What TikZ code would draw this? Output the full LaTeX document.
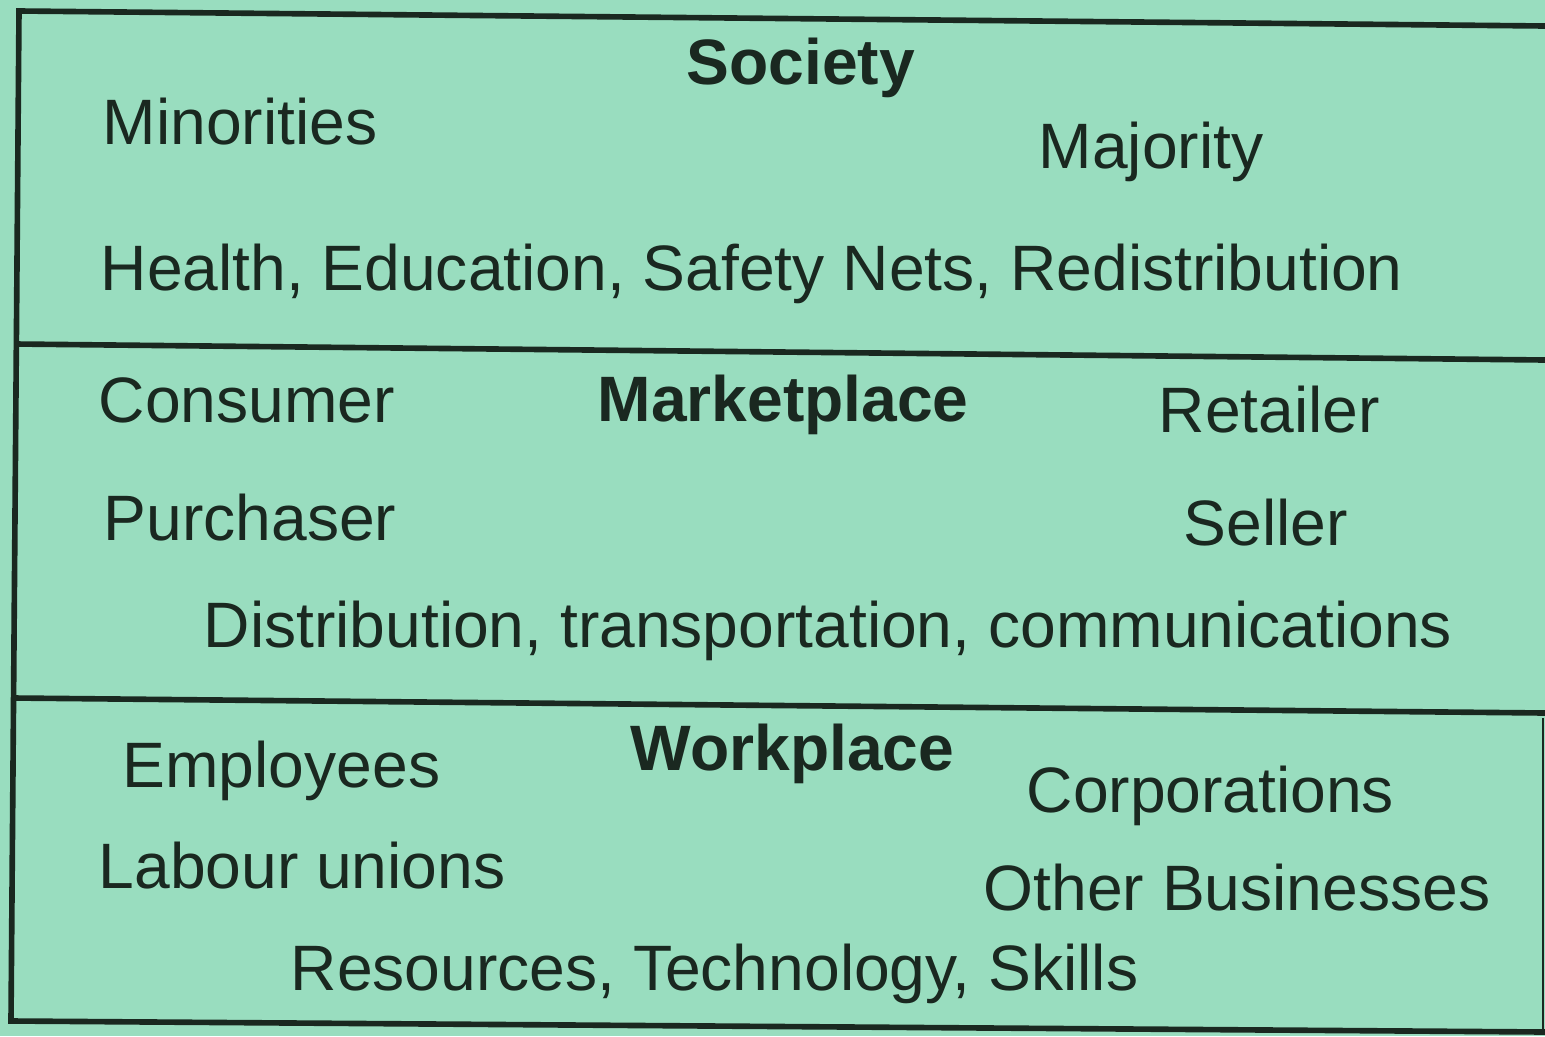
\documentclass[tikz,border=0pt]{standalone}
\usepackage{fontspec}
\setmainfont{Liberation Sans}
\definecolor{bg}{RGB}{153,221,191}
\definecolor{ink}{RGB}{26,40,32}
\begin{document}
\begin{tikzpicture}[x=0.01cm,y=-0.01cm,
  lbl/.style={anchor=base west,inner sep=0pt,text=ink,font=\fontsize{18.25}{22}\selectfont},
  ttl/.style={anchor=base west,inner sep=0pt,text=ink,font=\fontsize{18.25}{22}\selectfont\bfseries},
  rule/.style={draw=ink,line width=1.6pt}]
\fill[bg] (0,0) rectangle (1545,1036);
\useasboundingbox (0,0) rectangle (1545,1036);
% frame
\coordinate (tl) at (19,11);
\coordinate (tr) at (1545,26);
\coordinate (bl) at (11,1021);
\coordinate (br) at (1545,1032);
\coordinate (s1l) at (15,344);
\coordinate (s1r) at (1545,360);
\coordinate (s2l) at (13,698);
\coordinate (s2r) at (1545,713);
\draw[rule] (tr) -- (tl) -- (bl) -- (br);
\draw[rule] (s1l) -- (s1r);
\draw[rule] (s2l) -- (s2r);
\coordinate (rt) at (1543,718);
\coordinate (rb) at (1543,1030);
\draw[draw=ink,line width=0.6pt] (rt) -- (rb);
% Society
\node[ttl] (soc) at (686,84) {Society};
\node[lbl] (min) at (102,144) {Minorities};
\node[lbl] (maj) at (1038,168) {Majority};
\node[lbl] (hea) at (100,290) {Health, Education, Safety Nets, Redistribution};
% Marketplace
\node[lbl] (con) at (98,422) {Consumer};
\node[ttl] (mkt) at (597,421) {Marketplace};
\node[lbl] (ret) at (1158,432) {Retailer};
\node[lbl] (pur) at (103,540) {Purchaser};
\node[lbl] (sel) at (1183,545) {Seller};
\node[lbl] (dis) at (203,647) {Distribution, transportation, communications};
% Workplace
\node[lbl] (emp) at (122,787) {Employees};
\node[ttl] (wkp) at (630,770) {Workplace};
\node[lbl] (cor) at (1026,812) {Corporations};
\node[lbl] (lab) at (98,888) {Labour unions};
\node[lbl] (oth) at (983,910) {Other Businesses};
\node[lbl] (res) at (290,990) {Resources, Technology, Skills};
\end{tikzpicture}
\end{document}
